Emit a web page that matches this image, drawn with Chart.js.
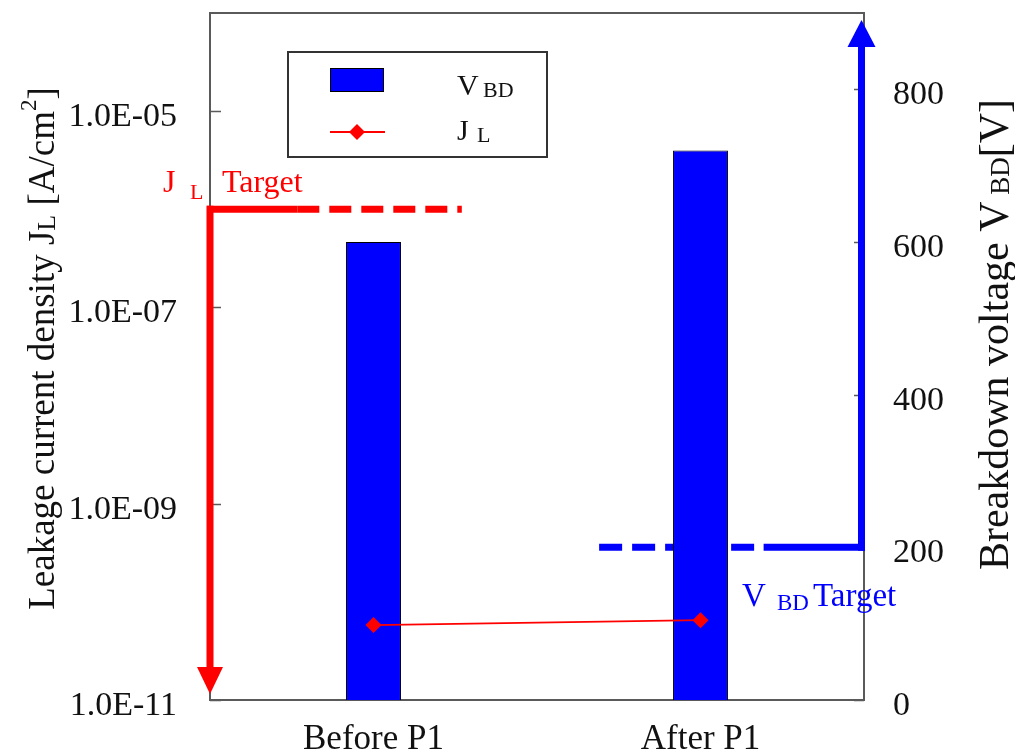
<!DOCTYPE html>
<html>
<head>
<meta charset="utf-8">
<script src="https://cdn.jsdelivr.net/npm/chart.js@4.4.1/dist/chart.umd.min.js"></script>
<style>
  html, body { margin: 0; padding: 0; background: #ffffff; }
  canvas { display: block; }
</style>
</head>
<body>
<canvas id="chart" width="1015" height="755"></canvas>
<script>
// ---- data ----
const categories = ['Before P1', 'After P1'];
const breakdownVoltage = [600, 720];          // V_BD [V] (right axis, bars)
const leakageDensity = [5.8e-11, 6.5e-11];    // J_L [A/cm^2] (left axis, log line)
const leftTickValues = [1e-11, 1e-9, 1e-7, 1e-5];
const rightTickValues = [0, 200, 400, 600, 800];
const jlTarget = 1e-6;     // leakage current density target
const vbdTarget = 200;     // breakdown voltage target

// ---- styling ----
const SERIF = '"Liberation Serif", "Times New Roman", serif';
const FRAME = '#5a5a5a';
const RED = '#ff0000';
const BLUE = '#0000ff';
const TEXT = '#111111';

function sciLabel(v) {
  const e = Math.round(Math.log10(v));
  return '1.0E' + (e < 0 ? '-' : '+') + String(Math.abs(e)).padStart(2, '0');
}

// fixed axis box sizes so the plot area keeps its place
function pinBox(size) {
  return function (s) {
    if (s.isHorizontal()) { s.height = size; } else { s.width = size; }
    s.paddingTop = 0; s.paddingBottom = 0; s.paddingLeft = 0; s.paddingRight = 0;
  };
}

// draw a run of text pieces with different sizes / baseline shifts
function richText(ctx, parts, x, y, color, align) {
  ctx.save();
  ctx.fillStyle = color;
  ctx.textBaseline = 'alphabetic';
  ctx.textAlign = 'left';
  let total = 0;
  parts.forEach(p => { ctx.font = p.s + 'px ' + SERIF; total += ctx.measureText(p.t).width; });
  let cx = align === 'center' ? x - total / 2 : x;
  parts.forEach(p => {
    ctx.font = p.s + 'px ' + SERIF;
    ctx.fillText(p.t, cx, y + (p.dy || 0));
    cx += ctx.measureText(p.t).width;
  });
  ctx.restore();
}

function arrowHead(ctx, tipX, tipY, halfW, len, dir, color) {
  ctx.beginPath();
  ctx.moveTo(tipX, tipY);
  ctx.lineTo(tipX - halfW, tipY - dir * len);
  ctx.lineTo(tipX + halfW, tipY - dir * len);
  ctx.closePath();
  ctx.fillStyle = color;
  ctx.fill();
}

const decorations = {
  id: 'decorations',
  beforeDatasetsDraw(chart) {
    const ctx = chart.ctx;
    const a = chart.chartArea;
    const xs = chart.scales.x, yl = chart.scales.y, yr = chart.scales.y1;
    ctx.save();

    // plot frame
    ctx.strokeStyle = FRAME;
    ctx.lineWidth = 2;
    ctx.strokeRect(a.left, a.top, a.right - a.left, a.bottom - a.top);

    // inward tick marks
    ctx.lineWidth = 1.5;
    ctx.beginPath();
    leftTickValues.forEach(v => {
      const py = Math.round(yl.getPixelForValue(v)) + 0.5;
      ctx.moveTo(a.left, py); ctx.lineTo(a.left + 11, py);
    });
    rightTickValues.forEach(v => {
      const py = Math.round(yr.getPixelForValue(v)) + 0.5;
      ctx.moveTo(a.right, py); ctx.lineTo(a.right - 10, py);
    });
    ctx.stroke();

    // J_L target: horizontal marker with arrow down the left axis
    const jy = yl.getPixelForValue(jlTarget);
    const jSolidEnd = xs.getPixelForValue(-0.233);
    const jDashEnd = xs.getPixelForValue(0.27);
    ctx.strokeStyle = RED;
    ctx.lineWidth = 7;
    ctx.lineCap = 'butt';
    ctx.beginPath();
    ctx.moveTo(a.left - 3, jy); ctx.lineTo(jSolidEnd, jy);
    ctx.stroke();
    ctx.setLineDash([22, 10]);
    ctx.beginPath();
    ctx.moveTo(jSolidEnd, jy); ctx.lineTo(jDashEnd, jy);
    ctx.stroke();
    ctx.setLineDash([]);
    ctx.beginPath();
    ctx.moveTo(a.left, jy - 3.5); ctx.lineTo(a.left, a.bottom - 30);
    ctx.stroke();
    arrowHead(ctx, a.left, a.bottom - 6, 13, 27, 1, RED);

    // V_BD target: horizontal marker with arrow up the right axis
    const vy = yr.getPixelForValue(vbdTarget);
    const vDashStart = xs.getPixelForValue(0.69);
    const vSolidStart = xs.getPixelForValue(1.193);
    const vx = a.right - 2.5;
    ctx.strokeStyle = BLUE;
    ctx.setLineDash([23, 10]);
    ctx.beginPath();
    ctx.moveTo(vDashStart, vy); ctx.lineTo(vSolidStart, vy);
    ctx.stroke();
    ctx.setLineDash([]);
    ctx.beginPath();
    ctx.moveTo(vSolidStart, vy); ctx.lineTo(vx + 3.5, vy);
    ctx.stroke();
    ctx.beginPath();
    ctx.moveTo(vx, vy + 3.5); ctx.lineTo(vx, a.top + 32);
    ctx.stroke();
    arrowHead(ctx, vx, a.top + 7, 14, 27, -1, BLUE);

    ctx.restore();
  },
  afterDraw(chart) {
    const ctx = chart.ctx;
    const a = chart.chartArea;
    const yl = chart.scales.y, yr = chart.scales.y1;

    // axis titles
    ctx.save();
    ctx.translate(42, (a.top + a.bottom) / 2 - 8);
    ctx.rotate(-Math.PI / 2);
    richText(ctx, [
      { t: 'Leakage current density J', s: 37 },
      { t: 'L', s: 26, dy: 1 },
      { t: ' [A/cm', s: 37 },
      { t: '2', s: 23, dy: -18 },
      { t: ']', s: 37 }
    ], 0, 12, TEXT, 'center');
    ctx.restore();

    ctx.save();
    ctx.translate(995, (a.top + a.bottom) / 2 - 22);
    ctx.rotate(-Math.PI / 2);
    richText(ctx, [
      { t: 'Breakdown voltage V', s: 42 },
      { t: ' BD', s: 27, dy: 1 },
      { t: '[V]', s: 42 }
    ], 0, 13, TEXT, 'center');
    ctx.restore();

    // target labels
    const jy = yl.getPixelForValue(jlTarget);
    richText(ctx, [{ t: 'J', s: 32 }], a.left - 47, jy - 17, RED);
    richText(ctx, [{ t: 'L', s: 22 }], a.left - 20, jy - 10, RED);
    richText(ctx, [{ t: 'Target', s: 32 }], a.left + 12, jy - 17, RED);

    const vy = yr.getPixelForValue(vbdTarget);
    richText(ctx, [{ t: 'V', s: 33 }], 742, vy + 59, BLUE);
    richText(ctx, [{ t: 'BD', s: 23 }], 777, vy + 63, BLUE);
    richText(ctx, [{ t: 'Target', s: 33 }], 813, vy + 59, BLUE);

    // legend
    const bar = chart.data.datasets[1];
    const line = chart.data.datasets[0];
    const lx = a.left + 78, ly = a.top + 39, lw = 259, lh = 105;
    ctx.save();
    ctx.fillStyle = '#ffffff';
    ctx.fillRect(lx, ly, lw, lh);
    ctx.strokeStyle = '#333333';
    ctx.lineWidth = 2;
    ctx.strokeRect(lx, ly, lw, lh);
    ctx.fillStyle = bar.backgroundColor;
    ctx.fillRect(lx + 42, ly + 16, 53, 23);
    ctx.strokeStyle = '#000000';
    ctx.lineWidth = 1;
    ctx.strokeRect(lx + 42.5, ly + 16.5, 53, 23);
    ctx.strokeStyle = line.borderColor;
    ctx.lineWidth = 2;
    ctx.beginPath();
    ctx.moveTo(lx + 42, ly + 80); ctx.lineTo(lx + 97, ly + 80);
    ctx.stroke();
    ctx.fillStyle = line.pointBackgroundColor;
    ctx.beginPath();
    const dx = lx + 69, dy = ly + 80, r = 8;
    ctx.moveTo(dx, dy - r); ctx.lineTo(dx + r, dy); ctx.lineTo(dx, dy + r); ctx.lineTo(dx - r, dy);
    ctx.closePath();
    ctx.fill();
    ctx.restore();
    richText(ctx, [{ t: 'V', s: 30 }], lx + 169, ly + 43, TEXT);
    richText(ctx, [{ t: 'BD', s: 22 }], lx + 195, ly + 45, TEXT);
    richText(ctx, [{ t: 'J', s: 30 }], lx + 169, ly + 88, TEXT);
    richText(ctx, [{ t: 'L', s: 22 }], lx + 189, ly + 90, TEXT);
  }
};

new Chart(document.getElementById('chart').getContext('2d'), {
  data: {
    labels: categories,
    datasets: [
      {
        type: 'line',
        label: 'J_L',
        data: leakageDensity,
        yAxisID: 'y',
        borderColor: RED,
        borderWidth: 1.8,
        pointStyle: 'rectRot',
        pointRadius: 8,
        pointBackgroundColor: RED,
        pointBorderColor: RED,
        pointBorderWidth: 0,
        tension: 0,
        order: 0
      },
      {
        type: 'bar',
        label: 'V_BD',
        data: breakdownVoltage,
        yAxisID: 'y1',
        backgroundColor: BLUE,
        borderColor: '#000000',
        borderWidth: 1,
        barPercentage: 0.168,
        categoryPercentage: 1,
        order: 1
      }
    ]
  },
  options: {
    responsive: false,
    animation: false,
    devicePixelRatio: 1,
    layout: { padding: { top: 13, left: 0, right: 0, bottom: 0 } },
    plugins: { legend: { display: false }, tooltip: { enabled: false } },
    scales: {
      x: {
        type: 'category',
        offset: true,
        grid: { display: false, drawTicks: false },
        border: { display: false },
        ticks: { color: TEXT, font: { family: SERIF, size: 35 }, padding: 19 },
        afterFit: pinBox(55)
      },
      y: {
        type: 'logarithmic',
        position: 'left',
        min: 1e-11,
        max: 1e-4,
        grid: { display: false, drawTicks: false },
        border: { display: false },
        afterBuildTicks(s) { s.ticks = leftTickValues.map(v => ({ value: v })); },
        ticks: {
          color: TEXT,
          font: { family: SERIF, size: 34 },
          padding: 33,
          labelOffset: 6,
          autoSkip: false,
          callback: v => sciLabel(v)
        },
        afterFit: pinBox(210)
      },
      y1: {
        type: 'linear',
        position: 'right',
        min: 0,
        max: 900,
        grid: { display: false, drawTicks: false },
        border: { display: false },
        afterBuildTicks(s) { s.ticks = rightTickValues.map(v => ({ value: v })); },
        ticks: {
          color: TEXT,
          font: { family: SERIF, size: 34 },
          padding: 29,
          labelOffset: 6,
          autoSkip: false
        },
        afterFit: pinBox(151)
      }
    }
  },
  plugins: [decorations]
});
</script>
</body>
</html>
